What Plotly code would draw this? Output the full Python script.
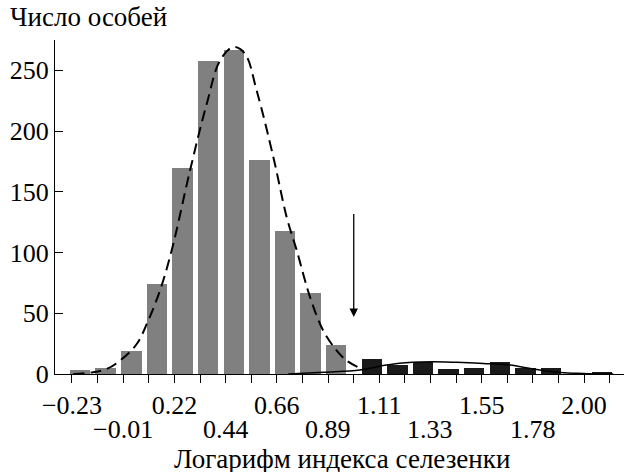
import plotly.graph_objects as go

# ---- data ----
tick_positions = [-0.23, -0.119, -0.007, 0.105, 0.216, 0.328, 0.439, 0.551, 0.662, 0.774, 0.885,
                  0.997, 1.108, 1.220, 1.331, 1.443, 1.554, 1.666, 1.777, 1.889, 2.000, 2.112]
upper_labels = ["−0.23", "0.22", "0.66", "1.11", "1.55", "2.00"]      # ticks 0,4,8,...
lower_labels = ["−0.01", "0.44", "0.89", "1.33", "1.78"]              # ticks 2,6,10,...

gray_bins = tick_positions[0:11]
gray_counts = [3, 5, 19, 74, 170, 258, 267, 176, 118, 67, 24]

black_bins = tick_positions[11:21]
black_counts = [12, 7.5, 10, 4, 5, 10, 5, 5, 0, 1.5]

dashed_x = [-0.224, -0.143, -0.079, -0.021, 0.052, 0.102, 0.153, 0.204, 0.284, 0.357, 0.415,
            0.472, 0.523, 0.574, 0.647, 0.705, 0.749, 0.807, 0.864, 0.923, 0.966, 1.016]
dashed_y = [0, 1.3, 4.1, 11, 24.7, 44, 68.7, 101.6, 167.6, 222.6, 258.2,
            269.2, 263.8, 233.5, 178.5, 129.1, 101.6, 63.1, 35.7, 19.2, 11, 5.6]

solid_x = [0.712, 0.867, 1.024, 1.141, 1.252, 1.339, 1.445, 1.561, 1.677, 1.779, 1.898, 1.997, 2.127]
solid_y = [0, 1.5, 3.3, 7.4, 9.6, 10.1, 9.6, 8.7, 7.4, 4.1, 1.3, 0.5, 0]

threshold_x = 0.997
arrow_tail_y = 133
arrow_tip_y = 47

FONT = "Times New Roman, Liberation Serif, DejaVu Serif, serif"
TICK_SIZE = 26
TITLE_SIZE = 27
step = tick_positions[1] - tick_positions[0]

fig = go.Figure()
fig.add_trace(go.Bar(x=gray_bins, y=gray_counts, width=0.8 * step, offset=-0.08 * step,
                     marker=dict(color="#808080", line=dict(width=0)), showlegend=False))
fig.add_trace(go.Bar(x=black_bins, y=black_counts, width=0.8 * step, offset=0.31 * step,
                     marker=dict(color="#1a1a1a", line=dict(width=0)), showlegend=False))
fig.add_trace(go.Scatter(x=dashed_x, y=dashed_y, mode="lines", line_shape="spline",
                         line=dict(color="black", width=2, dash="11px,6px"), showlegend=False))
fig.add_trace(go.Scatter(x=solid_x, y=solid_y, mode="lines", line_shape="spline",
                         line=dict(color="black", width=1.5), showlegend=False))

ticktext = []
ui = 0
for i in range(len(tick_positions)):
    if i % 4 == 0 and ui < len(upper_labels):
        ticktext.append(upper_labels[ui]); ui += 1
    else:
        ticktext.append("")

# plot area: x 55..624, y 40..374 within a 624x474 figure
PH = 334.0
annotations = []
for j, lab in enumerate(lower_labels):
    annotations.append(dict(x=tick_positions[2 + 4 * j], y=-(429.3 - 374) / PH, xref="x", yref="paper",
                            text=lab, showarrow=False, xanchor="center", yanchor="middle", height=24,
                            font=dict(family=FONT, size=TICK_SIZE, color="black")))
annotations.append(dict(x=(341.5 - 55) / 569, y=-(459 - 374) / PH, xref="paper", yref="paper",
                        text="Логарифм индекса селезенки", height=26,
                        showarrow=False, xanchor="center", yanchor="middle",
                        font=dict(family=FONT, size=TITLE_SIZE, color="black")))
annotations.append(dict(x=-47 / 569, y=1 + (40 - 17) / PH, xref="paper", yref="paper", text="Число особей",
                        showarrow=False, xanchor="left", yanchor="middle", height=28,
                        font=dict(family=FONT, size=TITLE_SIZE, color="black")))
annotations.append(dict(x=threshold_x, y=arrow_tip_y, ax=threshold_x, ay=arrow_tail_y,
                        xref="x", yref="y", axref="x", ayref="y", text="", showarrow=True,
                        arrowhead=2, arrowsize=1.3, arrowwidth=1.3, arrowcolor="black"))

fig.update_layout(
    width=624, height=474,
    margin=dict(l=55, r=0, t=40, b=100),
    plot_bgcolor="white", paper_bgcolor="white",
    barmode="overlay", bargap=0,
    font=dict(family=FONT, size=TICK_SIZE, color="black"),
    annotations=annotations,
    xaxis=dict(range=[-0.304, 2.174], tickvals=tick_positions, ticktext=ticktext,
               ticks="outside", ticklen=8, tickwidth=1.3, tickcolor="black", ticklabelstandoff=0,
               showline=True, linecolor="black", linewidth=1.3, showgrid=False, zeroline=False,
               tickfont=dict(family=FONT, size=TICK_SIZE, color="black")),
    yaxis=dict(range=[0, 275], tickvals=[0, 50, 100, 150, 200, 250],
               ticks="inside", ticklen=8, tickwidth=1.3, tickcolor="black",
               showline=True, linecolor="black", linewidth=1.3, showgrid=False, zeroline=False,
               tickfont=dict(family=FONT, size=TICK_SIZE, color="black")),
)

fig.write_html("out.html", config={"displayModeBar": False},
               post_script="document.body.style.margin='0';document.body.style.overflow='hidden';")
